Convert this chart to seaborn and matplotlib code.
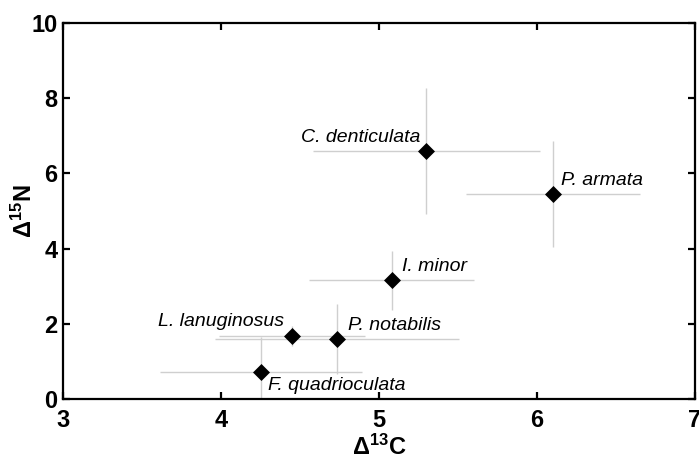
import matplotlib
matplotlib.use("Agg")
import matplotlib.pyplot as plt
import seaborn as sns
import pandas as pd

# Stable-isotope trophic enrichment per species
species = ["C. denticulata", "P. armata", "I. minor", "P. notabilis",
           "L. lanuginosus", "F. quadrioculata"]
delta13c = [5.30, 6.10, 5.08, 4.735, 4.45, 4.255]
delta15n = [6.60, 5.45, 3.16, 1.60, 1.68, 0.72]
delta13c_err = [0.72, 0.55, 0.52, 0.77, 0.46, 0.64]
delta15n_err = [1.67, 1.40, 0.78, 0.93, 0.27, 0.93]

x_ticks = [3, 4, 5, 6, 7]
y_ticks = [0, 2, 4, 6, 8, 10]

# label placement: (dx px, dy px, horizontal alignment)
label_style = {
    "C. denticulata": (-6, 9, "right"),
    "P. armata": (8, 9, "left"),
    "I. minor": (10, 9, "left"),
    "P. notabilis": (11, 9, "left"),
    "L. lanuginosus": (-8, 10, "right"),
    "F. quadrioculata": (7, -18, "left"),
}

df = pd.DataFrame({"species": species, "d13C": delta13c, "d15N": delta15n,
                   "d13C_err": delta13c_err, "d15N_err": delta15n_err})

sns.set_theme(style="ticks")
plt.rcParams["font.family"] = ["Liberation Sans", "DejaVu Sans"]
plt.rcParams["mathtext.fontset"] = "custom"
plt.rcParams["mathtext.rm"] = "Liberation Sans"
plt.rcParams["mathtext.bf"] = "Liberation Sans:bold"

fig = plt.figure(figsize=(6.99, 4.61), dpi=100)
ax = fig.add_axes([63 / 699, 1 - 399 / 461, (695 - 63) / 699, (399 - 23) / 461])

ax.errorbar(df["d13C"], df["d15N"], xerr=df["d13C_err"], yerr=df["d15N_err"],
            fmt="none", ecolor="#cfcfcf", elinewidth=1.0, capsize=0, zorder=1)
sns.scatterplot(data=df, x="d13C", y="d15N", marker="D", s=75, color="black",
                edgecolor="black", linewidth=0, ax=ax, zorder=3, legend=False)

for name, x, y in zip(df["species"], df["d13C"], df["d15N"]):
    dx, dy, ha = label_style[name]
    ax.annotate(name, (x, y), xytext=(dx, dy), textcoords="offset pixels",
                ha=ha, va="baseline", fontsize=14, style="italic", color="black")

ax.set_xlim(3, 7)
ax.set_ylim(0, 10)
ax.set_xticks(x_ticks)
ax.set_yticks(y_ticks)
ax.set_xticklabels([str(t) for t in x_ticks], fontsize=17, fontweight="bold")
ax.set_yticklabels([str(t) for t in y_ticks], fontsize=17, fontweight="bold")
ax.tick_params(direction="in", length=5, width=1.6, top=True, right=True,
               colors="black", pad=4)
ax.tick_params(axis="x", pad=7)
for side in ["top", "right", "bottom", "left"]:
    ax.spines[side].set_visible(True)
    ax.spines[side].set_linewidth(1.6)
    ax.spines[side].set_color("black")

ax.set_xlabel(r"$\mathbf{\Delta^{13}C}$", fontsize=17, labelpad=2, color="black")
ax.set_ylabel(r"$\mathbf{\Delta^{15}N}$", fontsize=17, labelpad=-4, color="black")

fig.savefig("out.png", dpi=100)
